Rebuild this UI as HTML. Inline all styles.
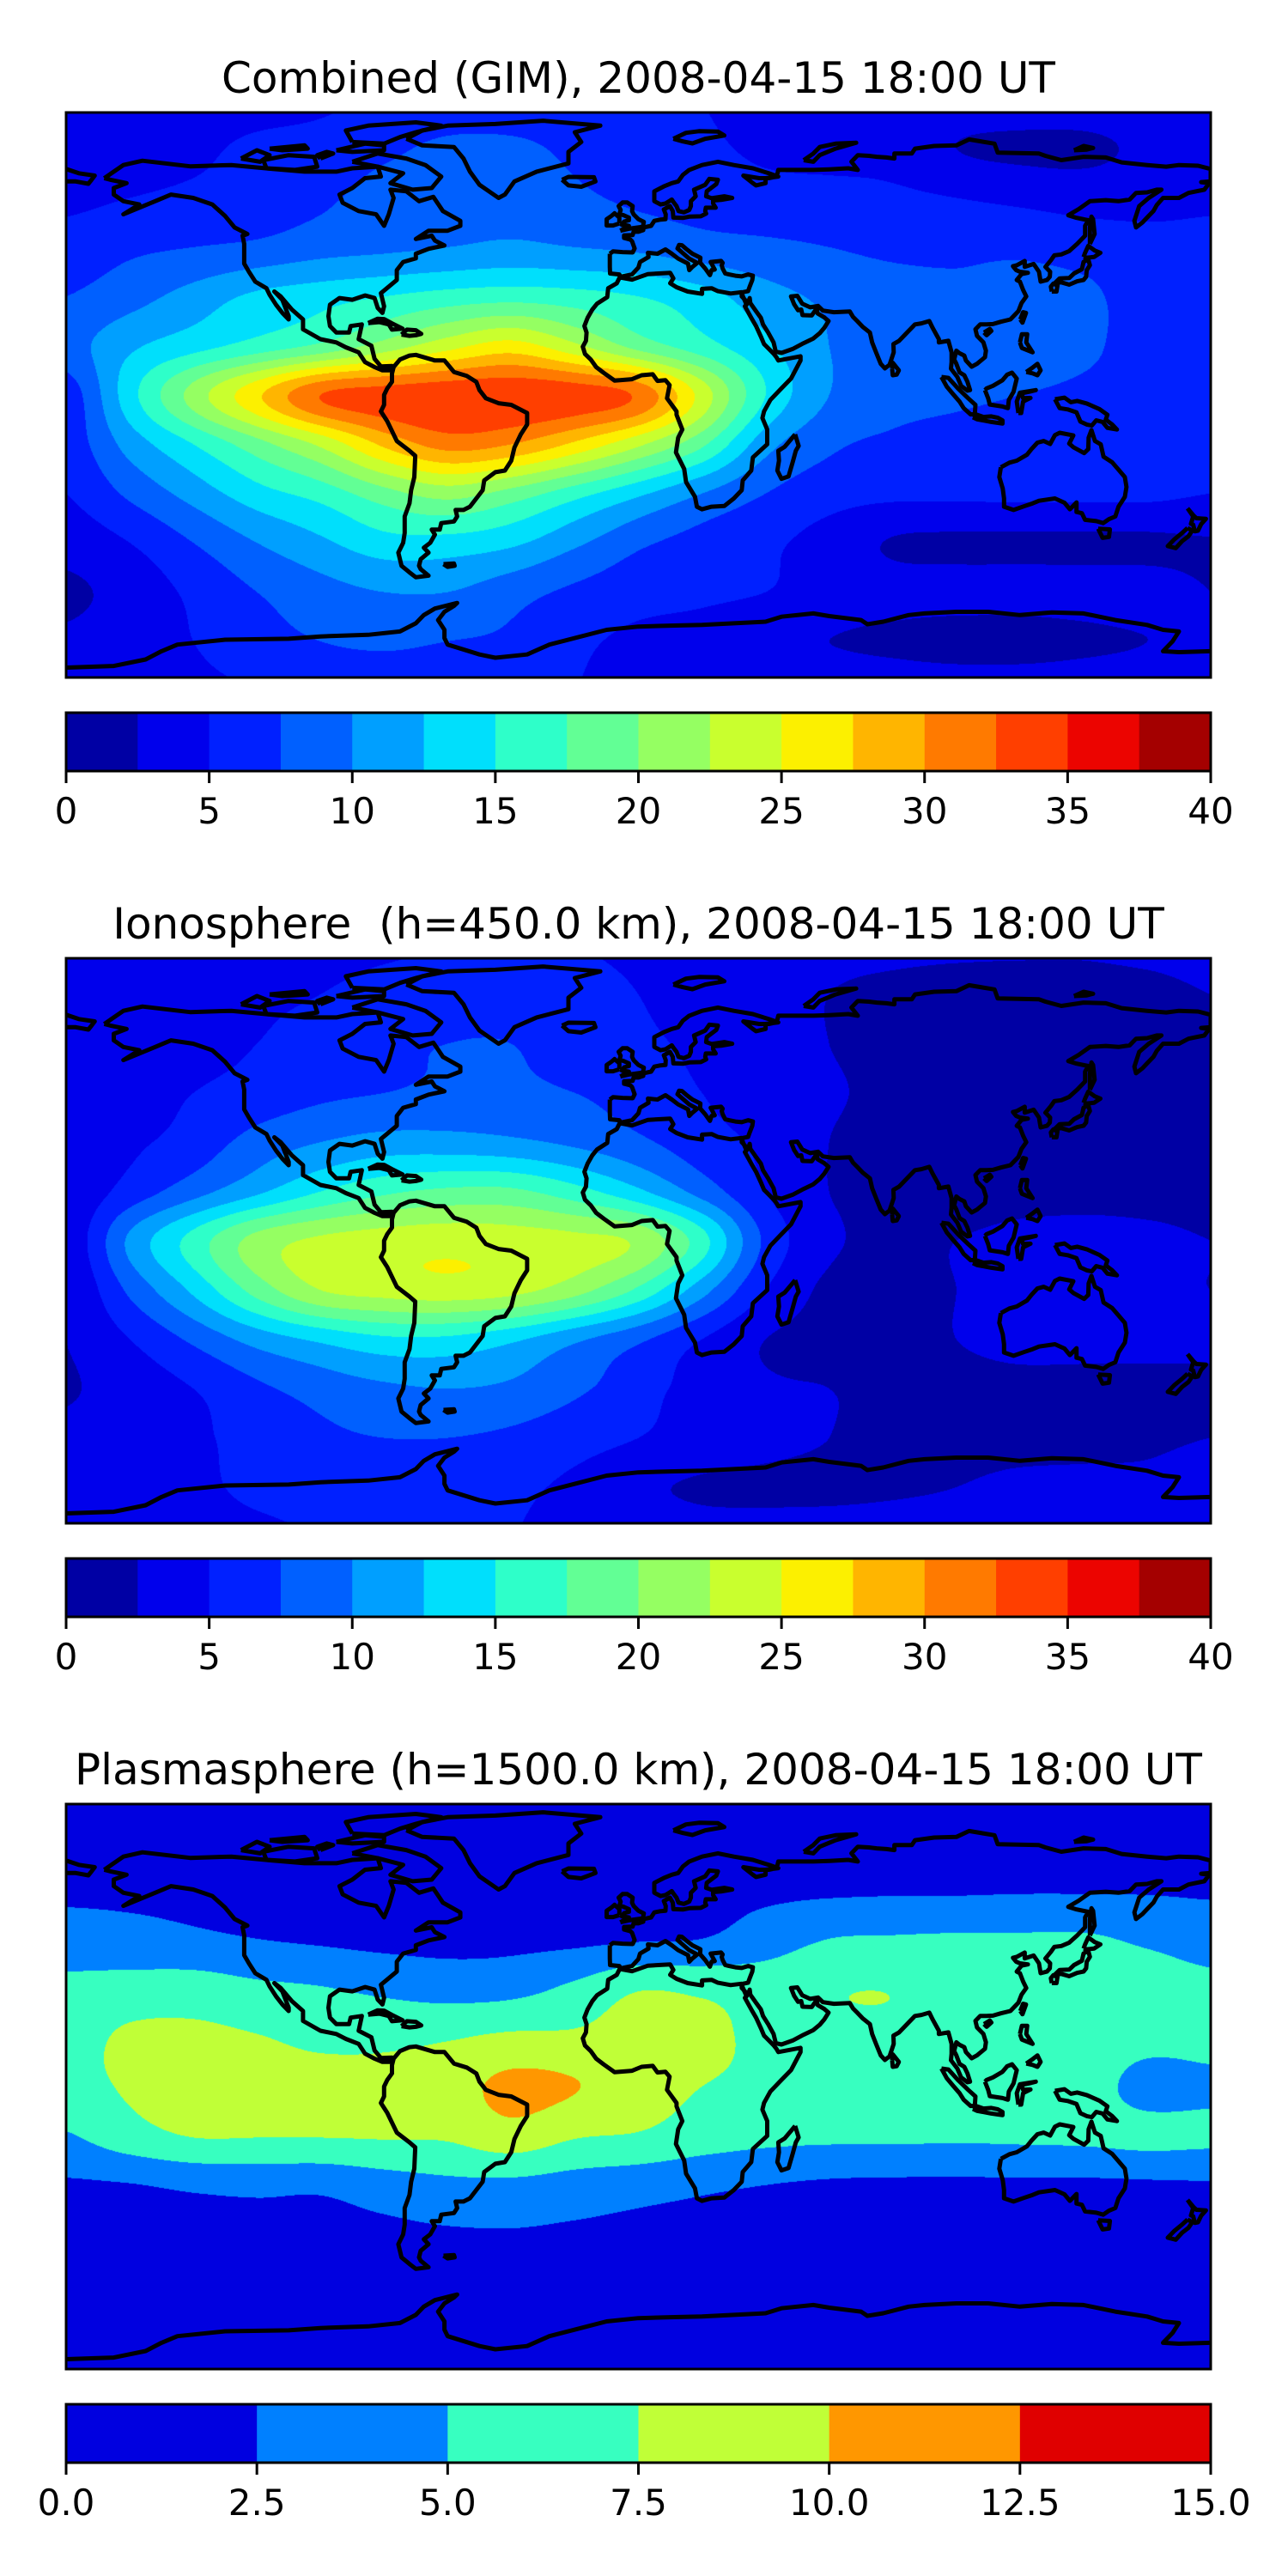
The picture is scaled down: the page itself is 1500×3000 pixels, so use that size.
<!DOCTYPE html>
<html><head><meta charset="utf-8"><title>TEC maps</title>
<style>
html,body{margin:0;padding:0;background:#fff;}
#page{position:relative;width:1500px;height:3000px;background:#fff;overflow:hidden;}
canvas{position:absolute;left:77px;width:1333px;height:658px;}
#overlay{position:absolute;left:0;top:0;}
text{font-family:"DejaVu Sans","Liberation Sans",sans-serif;fill:#000;}
</style></head>
<body>
<div id="page">
<canvas id="map0" width="1333" height="658" style="top:131px"></canvas>
<canvas id="map1" width="1333" height="658" style="top:1116px"></canvas>
<canvas id="map2" width="1333" height="658" style="top:2101px"></canvas>
<svg id="overlay" width="1500" height="3000" xmlns="http://www.w3.org/2000/svg">
<defs>
<clipPath id="clip0"><rect x="77" y="131" width="1333" height="658"/></clipPath>
<clipPath id="clip1"><rect x="77" y="1116" width="1333" height="658"/></clipPath>
<clipPath id="clip2"><rect x="77" y="2101" width="1333" height="658"/></clipPath>
</defs>
<text x="743.5" y="108" font-size="50" text-anchor="middle">Combined (GIM), 2008-04-15 18:00 UT</text>
<text x="743.5" y="1093" font-size="50" text-anchor="middle" xml:space="preserve">Ionosphere  (h=450.0 km), 2008-04-15 18:00 UT</text>
<text x="743.5" y="2078" font-size="50" text-anchor="middle">Plasmasphere (h=1500.0 km), 2008-04-15 18:00 UT</text>
<g id="layers"></g>
</svg>
</div>
<script>
const lons = [-180,-160,-140,-120,-100,-80,-60,-40,-20,0,20,40,60,80,100,120,140,160,180];
const lats = [90,75,60,45,30,15,0,-15,-30,-45,-60,-75,-90];

const combinedTEC = [
[4,4,4,4,4.5,5.5,6,6,6,5.5,5,4,4,4,4,4,4,4,4],
[4,4,4.5,5.5,6,7,8,8,7,6,5.5,4.5,4,4,2.5,2,2,3,4],
[4.5,5,5.5,6,7,8.5,9,9,8,7,6.5,6,6,5.5,5,4.5,4,4,4.5],
[6,7,7.5,8,9,9.5,10,10.5,10,9.5,8.5,8,7.5,7,7,7,6.5,6,6],
[7.5,9,11,13,14,15,16,16.5,16,15,13.5,11,9.5,8.5,8,8.5,8,6.5,7],
[9,12,14,16,18,21,24,26,23,19,16,13,10,9,9,9,8,6.5,6],
[6,14,21,27,32.5,33.8,34.5,34.5,34,32,24,15,10,8.5,8,7.5,7,6.5,5],
[6,11,15,19,23,28,31,30,27,23,18,11,8,7,6.5,6.2,6.2,6,6],
[5,8,11,14,16,19,21,19,16,13,10,7.5,6,5.5,5.5,5.5,5.5,5.5,5],
[3.5,5,7.5,10,12,14,14,13,10.5,8,6.5,5.5,4,2.3,2,2,2,2,2.3],
[2,3.5,5.5,7.5,9,10,10,8.5,7,6,5.5,5,4,3.5,3.5,3.5,3.5,3.5,2.5],
[3,4,5,6.5,7.5,8,7.5,7,5.5,4.5,4,3,2.5,2,1.5,1.5,2,2.5,3],
[4,4,4.5,5,5.5,5.5,5.5,5.5,5,4.5,4,4,4,4,4,4,4,4,4]
];
const ionoTEC = [
[4,4,4,4,4,4.5,5,5,5,4.5,4,3.5,3,3,3,3,3,3.5,4],
[3,3,3.5,4.5,5,6,6.5,6.5,6,5,4,3,2.5,2,1.5,1.2,1.2,1.5,2.5],
[3,3.5,4,5,6,7,7.5,7.5,6.5,5.5,4.5,3.5,2.5,1.8,1.5,1.5,1.5,1.5,2],
[3,4,5,6,7,7.5,8,8,7.5,6.5,5,4,2.8,2,1.8,1.5,1.5,1.5,2],
[3,4.5,6,8.5,10,11,11,10.5,9.5,8,6,4.5,2.5,1.8,1.5,1.5,1.5,1.5,1.8],
[3,6,9,12,15,17,18,18,16,13,9,5,2.5,1.8,1.5,1.8,2,2,2],
[3,10.5,16,21,23,23.8,24.2,23.8,23.2,22,16,7,3,2,2.5,3,3,2.8,2.5],
[2.5,8,13,18.5,22.5,23.5,24,23.3,21,17,11,5,2,1.8,2.5,3,3,2.8,2.5],
[2.5,5,8,11,13,14.5,14.5,13,10.5,8,5,2.5,2,2,2.5,3,3,3,2.8],
[2.3,3.5,5,7,8.5,9.5,10,9.5,8,6,4,2.8,2.5,2.3,2,2,2,2,2.2],
[3,3.5,4.5,6,7,7.5,7.5,7,6,5,4,3.2,2.5,2,1.8,1.8,2,2.2,2.5],
[3.5,4,4.5,5.5,6,6,6,5.5,4.5,3,2.2,2,2,2.2,2.5,3,3,3,3.5],
[4,4,4,4.5,5,5,5,5,4.5,4,3.5,3.5,3.5,3.5,3.5,3.5,3.5,4,4]
];
const plasmaTEC = [
[0.8,0.8,0.8,0.8,0.8,0.8,0.8,0.8,0.8,0.8,0.8,0.8,0.8,0.8,0.8,0.8,0.8,0.8,0.8],
[1.2,1.2,1.2,1.2,1.2,1.2,1.2,1.2,1.2,1.2,1.2,1.2,1.3,1.3,1.3,1.4,1.4,1.4,1.4],
[2.0,2.0,2.0,1.9,1.8,1.7,1.6,1.6,1.7,1.8,1.9,2.0,2.1,2.2,2.2,2.3,2.3,2.3,2.2],
[3.6,3.3,2.9,2.5,2.2,1.9,1.8,1.9,2.0,2.3,2.5,3.7,5.0,5.2,5.3,5.3,5.3,4.6,3.9],
[5.6,6.0,6.2,5.5,5.1,4.5,4.0,4.2,5.5,7.3,7.0,6.5,7.3,7.4,6.6,6.5,6.4,6.2,5.6],
[6.5,7.9,8.0,7.6,7.0,6.9,7.3,7.9,7.9,8.5,8.2,6.9,7.0,7.0,6.9,6.8,6.6,5.9,5.9],
[6.5,7.8,8.4,8.2,8.2,8.4,9.0,10.6,10.1,8.6,7.5,6.9,6.8,6.7,6.7,6.6,6.3,4.0,4.4],
[4.8,6.5,7.6,7.6,7.6,7.7,7.8,9.0,7.7,7.3,6.3,5.7,5.5,5.5,5.4,5.5,5.6,5.8,5.6],
[2.2,2.4,2.9,3.1,3.0,3.8,4.4,4.4,3.9,3.4,2.9,2.5,2.2,2.1,2.1,2.1,2.1,2.2,2.3],
[1.5,1.5,1.6,1.7,1.7,1.9,2.2,2.3,2.1,1.9,1.8,1.7,1.6,1.6,1.6,1.6,1.6,1.6,1.6],
[1.1,1.1,1.1,1.1,1.1,1.1,1.1,1.1,1.1,1.1,1.1,1.1,1.1,1.1,1.1,1.1,1.1,1.1,1.1],
[0.8,0.8,0.8,0.8,0.8,0.8,0.8,0.8,0.8,0.8,0.8,0.8,0.8,0.8,0.8,0.8,0.8,0.8,0.8],
[0.6,0.6,0.6,0.6,0.6,0.6,0.6,0.6,0.6,0.6,0.6,0.6,0.6,0.6,0.6,0.6,0.6,0.6,0.6]
];
const levels40 = [0,2.5,5,7.5,10,12.5,15,17.5,20,22.5,25,27.5,30,32.5,35,37.5,40];
const levels15 = [0,2.5,5,7.5,10,12.5,15];
const ticks40 = [0,5,10,15,20,25,30,35,40];
const tickLabels40 = ['0','5','10','15','20','25','30','35','40'];
const ticks15 = [0,2.5,5,7.5,10,12.5,15];
const tickLabels15 = ['0.0','2.5','5.0','7.5','10.0','12.5','15.0'];

const coastlines = [
[[-168,66],[-162,70],[-156,71.3],[-141,69.6],[-128,70],[-115,68.8],[-105,68],[-95,68],[-90,69],[-82,69.5],[-81,66.5],[-86,66],[-90,63],[-94,61],[-93,58.5],[-88,56],[-82.5,55],[-80,51.5],[-78.5,55],[-77,60],[-78,62.5],[-73,62],[-69,59],[-64.5,60.3],[-61.5,56],[-56,53],[-56,51.5],[-60,50],[-66,50],[-70,47.5],[-65,48.5],[-64,47],[-61,45.5],[-66,44.5],[-70,43],[-70,41.6],[-74,40.5],[-76,38],[-76,35],[-81,31],[-80,27],[-80.5,25],[-82,26.5],[-83,29.5],[-86,30.3],[-90,29],[-94,29.5],[-97,27.5],[-97.5,24],[-97,21],[-95,19],[-91,19],[-90.5,21],[-87,21.5],[-88,17],[-84,15],[-83,11],[-81,8.7],[-77.5,8.8],[-78,7.5],[-80.5,7.5],[-83,8.5],[-86,10],[-88,13],[-92,14.5],[-95,16],[-100,17],[-105.5,20],[-105.5,23],[-109,26],[-112.5,30],[-114.5,31.5],[-112,29],[-110,24],[-110,23],[-112,25],[-114,27.5],[-116,30.5],[-117,32.5],[-120.5,34.5],[-122.5,37.5],[-124,40],[-124,46],[-124.5,48.5],[-123,49],[-127,51],[-130,54.5],[-134,58],[-140,60],[-147,61],[-152,59],[-157,57],[-162,55],[-157,58],[-162,59],[-165,61],[-165,63],[-161,64.5],[-166,65.5],[-168,66]],
[[-180,68.8],[-176,67.5],[-171,66.8],[-172,65.5],[-173,64.3],[-177,65],[-180,65]],
[[-90,71],[-82,73.5],[-73,72],[-67,70],[-62,66.5],[-65,63],[-71,62.5],[-78,64.5],[-74,67.5],[-82,69.5],[-90,71]],
[[-90,77],[-80,76.5],[-75,78.5],[-70,80],[-62,82],[-70,83],[-85,82],[-92,80.5],[-90,77]],
[[-118,71.5],[-110,73],[-102,72.5],[-101,69.5],[-108,68.5],[-117,69],[-118,71.5]],
[[-125,72],[-120,74.5],[-116,73],[-119,71],[-125,72]],
[[-95,74.5],[-86,76.5],[-80,76],[-80,74.5],[-90,74],[-95,74.5]],
[[-100,72],[-96,73.5],[-98,74],[-101,73],[-100,72]],
[[-116,75],[-105,76],[-104,75],[-112,74.5],[-116,75]],
[[-73,78],[-68,76],[-58,75.5],[-55,72],[-53,68],[-50,64],[-44,60],[-42,61],[-39,65],[-32,68],[-22,70.5],[-22,74],[-18,77],[-20,80],[-12,82],[-30,83.5],[-45,82.5],[-60,82],[-68,80.5],[-73,78]],
[[-24,65.5],[-22,66.4],[-14,66.3],[-13.5,65],[-18,63.4],[-22,63.8],[-24,65.5]],
[[-77,8.5],[-75,10.8],[-72,12],[-70,12.2],[-64,10.5],[-61,10.5],[-58,7],[-54,5.8],[-51,4],[-50,1.5],[-48,-1],[-44,-2.5],[-40,-3],[-35,-5.5],[-35,-9],[-37,-12],[-39,-16],[-40,-20],[-42,-23],[-45,-23.5],[-48.5,-26],[-49,-29],[-51,-31.5],[-53,-34],[-55,-35],[-57.5,-35],[-57,-37],[-58,-38.5],[-62,-39],[-62.5,-41],[-65,-41],[-64,-42.5],[-65.5,-45],[-67.5,-46.5],[-66,-48],[-68.5,-50],[-69,-52],[-68.5,-53],[-66,-55],[-70,-55.5],[-72,-54],[-74.5,-52],[-75.5,-48],[-74,-45],[-73.5,-42],[-73.5,-37],[-72,-33],[-71.5,-29],[-70.5,-25],[-70.2,-18.5],[-72,-17],[-76,-14],[-77,-12],[-79,-8],[-81,-5],[-80,-3],[-80,0],[-79,2],[-77.5,4],[-77.5,6.5],[-77,8.5]],
[[-5.9,35.8],[-2,35.1],[3,36.8],[10,37.2],[11,35.5],[10,34],[12,32.8],[15.5,31.5],[20,30.8],[20,32.3],[23,32.5],[25,31.6],[29,30.9],[32.3,31.3],[34,27.5],[33.5,27],[35.5,23.5],[37,21],[38.5,17.8],[39.5,15.5],[42.5,12.6],[43.4,11.5],[44,10.5],[51,11.8],[51,10.5],[48,5],[45,2],[41.5,-1.5],[39.5,-5],[39,-7],[40.5,-10.5],[40.5,-15],[36,-19],[35.5,-23],[32.8,-26],[32.5,-29],[30,-31.5],[27,-33.8],[23,-34],[20,-34.8],[18.4,-34],[17.8,-31],[15,-26.5],[14.4,-22.5],[11.8,-17.5],[12.5,-13],[13.8,-10.5],[12,-6],[12,-5],[9,-1],[9.8,3],[8.5,4.5],[6,4.3],[4.5,6.3],[1,6],[-2,4.8],[-7.5,4.4],[-11,6.8],[-13.3,8.5],[-15,10.8],[-16.8,12.5],[-17.5,14.7],[-16.5,16.5],[-16.3,19],[-17,21],[-16,23.5],[-14.5,26],[-13,27.8],[-9.8,29.8],[-9.5,32.5],[-6.8,34],[-5.9,35.8]],
[[49.3,-12],[50.4,-15.5],[49.5,-17],[48.5,-20.5],[47.2,-24.8],[45,-25.5],[43.7,-23],[44.2,-20],[44,-17],[46,-15.8],[48,-13.5],[49.3,-12]],
[[-9,43],[-9,39],[-8.9,37],[-6,36.7],[-5.6,36],[-2,36.7],[0,38.8],[0.5,40.5],[3.2,42],[3,43.3],[6,43],[8.5,44.3],[10.5,43],[12.5,41.5],[15.6,40],[16,38],[17,39],[18.5,40.2],[16,41.5],[13.5,43.6],[12.3,44.6],[12.8,45.7],[13.7,45.6],[15,44.5],[17,43],[19.5,41.8],[19.4,40.3],[21,38.5],[22.5,36.5],[23,38],[24,38.2],[22.7,40.5],[26,40.8],[26.5,40.2],[26.2,39.5],[26.5,38.5],[27.3,37],[28.5,36.7],[30.5,36.3],[32.5,36.1],[34.5,36.7],[36,36.3],[35.8,35],[35,33],[34.5,31.6],[32.5,31.2],[32.5,30],[34.5,28],[35,29.5],[35.2,28],[37,25.5],[38.5,23.5],[39.2,21.5],[40.8,19],[42.5,16],[43.2,13.2],[45,12.8],[48.5,14],[52,15.8],[55,17.2],[57,18.8],[58.5,20.5],[59.8,22.5],[58.5,23.6],[56.4,24.8],[56,26.3],[54.5,24.2],[51.6,24.3],[51.2,26],[50.2,25.8],[49,27.6],[48,30],[50,30.2],[51.5,27.8],[54,26.7],[56.5,27.1],[58,25.7],[61.5,25.2],[66.5,25.4],[67.5,23.8],[68.8,22.5],[70.5,20.8],[72.8,19],[73.5,16],[74.8,12.8],[76.2,9.5],[77.5,8.1],[79,9.2],[80.3,13],[80.2,15.5],[82,16.5],[85,19.5],[87,21.5],[89,21.8],[91.5,22.5],[92.5,20.5],[94.5,17],[94.5,16],[97.5,16.5],[98.5,13],[98.5,10],[98.3,8],[100.3,5.5],[101.5,2.8],[103.5,1.3],[104.3,1.5],[103.5,4],[102.5,6],[101,6.9],[100,9.5],[99.3,10.8],[100,13.5],[101,12.7],[102.5,12],[103,10.5],[104.8,8.6],[106.5,9.5],[109,11.5],[109.3,13.5],[108.5,16],[106.5,18],[106,20],[107.5,21.5],[109.5,21.5],[111.5,21.6],[114,22.3],[117,23],[119.5,25.5],[120.5,28],[122,30],[121,32],[120,34.5],[119,35],[120.5,36.8],[122.5,37.2],[120,37.5],[118.8,38],[117.8,39.2],[119,39.5],[121.5,40.8],[121.5,39],[124.3,39.9],[126,37.5],[126.5,34.5],[128.5,35],[129.4,36],[129.5,37.5],[128,39],[129.7,41],[130.8,42.5],[133,42.8],[135.5,43.8],[138,46],[140.5,48.5],[140.5,51.5],[141.5,53.2],[137.5,54],[135.2,54.7],[138.5,56.6],[142,59],[147,59.3],[151,59],[154.5,59.5],[156.5,61.5],[160,61.7],[163,62.5],[164.5,62.5],[160.5,60],[157.5,57.5],[156,53],[156.5,51],[158.5,52.5],[160,54],[162,56],[163,57.8],[165,60],[170,60],[173,61.5],[178,62.5],[179.5,64.5],[177,64.8],[180,65],[180,68.8],[176,69.8],[170,70],[166,69.5],[160,70],[152,70.8],[147,72.3],[140,72.5],[133,71.5],[128,72.8],[126,73.5],[113,73.8],[112,76.5],[104,77.8],[100,76],[93,75.8],[87,75],[86,73.5],[80.5,73.5],[80.5,72],[78,72.3],[75,72.5],[72.5,72.8],[69,73],[67,71],[69,68.5],[66,69],[60,68.7],[55,68.5],[53,68.5],[44,68.5],[43.5,66.5],[41,66],[38,66],[33,66.8],[36,64.5],[37,63.8],[40,64.5],[40,66],[44,66.5],[41,67.5],[36,69],[30,70],[25,71],[20,70],[16,68.5],[14,67],[12.5,65],[10.5,64.5],[8,63.5],[5,62],[5,59],[7,58],[8.5,58.3],[10.5,59.5],[11,58.8],[12,57.5],[12.6,56],[14.3,55.6],[16,56.3],[16.5,57.5],[16.5,59],[18,60.5],[17.5,62.5],[21,64],[22.3,65.8],[25,65.5],[24.5,64.2],[21.5,62],[21.3,60.5],[23,59.9],[27,60.5],[29.5,60],[26,59.4],[23.5,59.2],[23.5,58.3],[24.3,57],[21.2,57],[21,56],[21.3,55.2],[19.6,54.4],[16,54.3],[14,53.9],[11,54],[10.8,56],[9.9,57.5],[8,56.5],[8.6,55],[8.5,53.5],[7,53.4],[5,53],[4,51.5],[1.6,51],[1.5,50.2],[0,49.7],[-1.5,49.7],[-1.8,48.7],[-4.5,48.6],[-4.5,47.8],[-2.5,47.3],[-2,46.8],[-1.2,44.6],[-1.8,43.4],[-5,43.5],[-8,43.7],[-9,43]],
[[-5.7,50],[-3,50.6],[1.4,51.2],[1.7,52.7],[0,53.5],[-1.5,55],[-2,56],[-1.8,57.5],[-3.5,58.6],[-5,58.6],[-6.2,57.5],[-5.6,56.3],[-6,55],[-4.8,54.8],[-3,54],[-3,53.2],[-4.5,52.8],[-5.2,51.8],[-3,51.5],[-5.7,50]],
[[-6,52.2],[-6,54],[-7.5,55.3],[-8.5,54.5],[-10,53.5],[-10,51.6],[-8,51.6],[-6,52.2]],
[[130.9,34],[132.5,35.5],[135.5,35.6],[137,37],[139.5,38.3],[140,40.5],[141.5,41.3],[142,39.5],[141,38],[140.8,36],[140,35],[138,34.6],[135.5,33.6],[133,34.3],[130.9,34]],
[[140,42],[140.5,43.3],[141.5,45.4],[143.5,44],[145.3,43.3],[143.3,42],[141,41.8],[140,42]],
[[130,31.5],[131.5,31.5],[131.8,33.3],[130.5,33.9],[129.7,33],[130,31.5]],
[[142,46],[143.5,49],[143,53.5],[142.5,54.3],[142,51],[142,46]],
[[79.8,8],[80,9.8],[81.9,7.5],[81.2,6.2],[80,6],[79.8,8]],
[[120.1,23],[121,25.2],[121.9,25],[120.8,22],[120.1,23]],
[[108.7,19],[110.5,20.1],[111,19.5],[109.5,18.2],[108.7,19]],
[[120,16],[120.6,18.5],[122.3,18.5],[122,16],[124,13],[120.6,14.3],[120,16]],
[[122,7],[123.8,8.2],[125.5,9.5],[126.5,7.5],[125.5,6],[124,6.6],[122,7]],
[[109,1.5],[110,-1],[110.5,-2.9],[114.5,-3.5],[116.2,-4],[116.5,-1.5],[118,1],[119,5],[117.5,6.8],[116,6.2],[114.5,4.5],[111.5,2.8],[109.5,2],[109,1.5]],
[[95.3,5.5],[97.5,5.2],[100.5,2],[103.7,-1],[106,-3],[105.8,-5.8],[104.5,-5.9],[102.3,-4],[101,-2],[99,0.2],[97,2.5],[95.3,5.5]],
[[105.2,-6.8],[106.5,-6],[108.5,-6.7],[111,-6.5],[113,-6.9],[114.5,-7.7],[114.5,-8.7],[111,-8.2],[106.5,-7.4],[105.2,-6.8]],
[[119.5,-5.5],[120.4,-5.5],[121,-2],[123.3,-0.9],[121,-1],[120.5,0.5],[123,1],[125,1.5],[120,0.7],[119,-2],[119.5,-5.5]],
[[131,-1.3],[134,-0.8],[136,-2.2],[138,-1.8],[141,-2.6],[145,-4.3],[147.5,-6],[147,-7.5],[149,-9],[150.5,-10.5],[147.5,-10],[146,-8.2],[144,-7.7],[142.6,-9.3],[141,-9],[139,-8.1],[137.8,-5.3],[135,-4.4],[132.5,-4],[131,-1.3]],
[[114,-22],[113.5,-25],[114.6,-28.5],[115,-31.5],[115,-34],[118,-35],[121.5,-33.8],[124,-33],[126,-32.2],[131,-31.5],[134,-32.8],[135.7,-34.8],[137.8,-32.7],[137.8,-35.6],[139.5,-36],[140.5,-38],[144,-38.4],[146.2,-39],[148,-37.8],[150,-37],[151,-34],[153,-31],[153.5,-28],[153,-25],[150.8,-22.5],[149,-20.5],[146.3,-18.8],[145.4,-15],[143.6,-14],[142.5,-10.7],[141.6,-13],[141.5,-16.5],[140.2,-17.7],[136.8,-15.9],[135.5,-14.8],[136.8,-12.3],[132.5,-11.5],[131,-12.2],[129.5,-14.9],[127.5,-14],[125.5,-14.5],[123.6,-16.5],[122.2,-18.2],[119,-20],[116.7,-20.6],[114,-22]],
[[144.6,-40.7],[148.3,-40.9],[148,-43.2],[146,-43.5],[144.6,-40.7]],
[[172.7,-34.5],[174.7,-36.8],[175.5,-37.5],[178.5,-37.7],[177,-39.3],[176,-41.3],[175,-41.5],[174.5,-39.5],[173.8,-39.2],[174.5,-37],[172.7,-34.5]],
[[172.7,-40.5],[174.2,-41.3],[173,-43],[171,-44.5],[169,-46.6],[166.5,-46],[168.5,-44],[171,-42],[172.7,-40.5]],
[[-85,21.9],[-82,23.2],[-80,23.1],[-77.5,21.8],[-74.2,20.2],[-77.5,19.9],[-78.5,21.5],[-81.5,22.2],[-85,21.9]],
[[-74.5,18.4],[-72.8,19.9],[-70,19.7],[-68.3,18.6],[-70,18.2],[-72,18],[-74.5,18.4]],
[[52,71.5],[55,73.5],[57,75.5],[62,76.5],[68.5,76.8],[62,75],[57,73],[55,71],[52,71.5]],
[[11,78],[15,79.8],[19,80.3],[25,80.2],[27,79],[21,78],[17,76.6],[14,77.2],[11,78]],
[[137,74.5],[141,74.7],[143,75.2],[140,75.8],[137,74.5]],
[[-61.3,-51.5],[-58,-51.3],[-57.8,-52],[-60,-52.3],[-61.3,-51.5]],
[[-180,-83],[-165,-82.5],[-155,-80.5],[-150,-78],[-145,-76],[-130,-74.5],[-110,-74.2],[-100,-73.5],[-85,-73],[-75,-72],[-70,-69.5],[-67.5,-67],[-64,-65],[-57,-63.3],[-58,-64.2],[-61,-66],[-63,-68.5],[-61,-71.5],[-61,-74],[-60,-76],[-50,-79],[-45,-80],[-35,-79],[-28,-76],[-20,-74],[-10,-71.5],[0,-70.5],[10,-70.2],[20,-70],[30,-69.5],[40,-69],[45,-67.5],[55,-66.5],[60,-67.3],[70,-68.5],[72,-69.8],[77,-69],[85,-67],[90,-66.5],[100,-66],[110,-66],[120,-67],[130,-66.2],[140,-66.5],[150,-68.5],[160,-70],[165,-71.5],[170,-72],[168,-75],[165,-78],[170,-78.3],[180,-78]]
];

const NS = 'http://www.w3.org/2000/svg';
const MAP_X = 77, MAP_W = 1333, MAP_H = 658, LAT_MAX = 86;
const panelOffsets = [0, 985, 1970];
const grids = [combinedTEC, ionoTEC, plasmaTEC];
const levelSets = [levels40, levels40, levels15];
const tickSets = [ticks40, ticks40, ticks15];
const tickLabelSets = [tickLabels40, tickLabels40, tickLabels15];
const panelNames = ['combined', 'ionosphere', 'plasmasphere'];

function lerpSeg(t, pts){
  for(let i=1;i<pts.length;i++){
    if(t<=pts[i][0]){const a=pts[i-1],b=pts[i];return a[1]+(b[1]-a[1])*(t-a[0])/(b[0]-a[0]);}
  }
  return pts[pts.length-1][1];
}
function jet(t){
  const r=lerpSeg(t,[[0,0],[0.35,0],[0.66,1],[0.89,1],[1,0.5]]);
  const g=lerpSeg(t,[[0,0],[0.125,0],[0.375,1],[0.64,1],[0.91,0],[1,0]]);
  const b=lerpSeg(t,[[0,0.5],[0.11,1],[0.34,1],[0.65,0],[1,0]]);
  return [Math.round(r*255),Math.round(g*255),Math.round(b*255)];
}
function levelColors(levels){
  const n=levels.length-1, out=[];
  for(let i=0;i<n;i++) out.push(jet((i+0.5)/n));
  return out;
}
function cr(p0,p1,p2,p3,t){
  return 0.5*(2*p1+(-p0+p2)*t+(2*p0-5*p1+4*p2-p3)*t*t+(-p0+3*p1-3*p2+p3)*t*t*t);
}
function sample(grid, lon, lat){
  const nr=grid.length, nc=grid[0].length;
  const fx=(lon-lons[0])/(lons[1]-lons[0]);
  const fy=(lats[0]-lat)/(lats[0]-lats[1]);
  const ix=Math.min(Math.floor(fx),nc-2), iy=Math.min(Math.floor(fy),nr-2);
  const tx=fx-ix, ty=fy-iy;
  const rows=[];
  for(let j=-1;j<=2;j++){
    const r=grid[Math.max(0,Math.min(nr-1,iy+j))];
    const c=k=>r[Math.max(0,Math.min(nc-1,ix+k))];
    rows.push(cr(c(-1),c(0),c(1),c(2),tx));
  }
  return cr(rows[0],rows[1],rows[2],rows[3],ty);
}
function px(lon){return MAP_X+(lon+180)/360*MAP_W;}
function py(lat,top){return top+(LAT_MAX-lat)/(2*LAT_MAX)*MAP_H;}

const layers=document.getElementById('layers');
for(let p=0;p<3;p++){
  const grid=grids[p], levels=levelSets[p], cols=levelColors(levels);
  const n=levels.length-1, step=levels[1]-levels[0];
  const cv=document.getElementById('map'+p), ctx=cv.getContext('2d');
  const img=ctx.createImageData(MAP_W,MAP_H), d=img.data;
  for(let y=0;y<MAP_H;y++){
    const lat=LAT_MAX-(y+0.5)/MAP_H*2*LAT_MAX;
    for(let x=0;x<MAP_W;x++){
      const lon=-180+(x+0.5)/MAP_W*360;
      const v=sample(grid,lon,lat);
      let k=Math.floor((v-levels[0])/step); if(k<0)k=0; if(k>n-1)k=n-1;
      const c=cols[k], o=(y*MAP_W+x)*4;
      d[o]=c[0];d[o+1]=c[1];d[o+2]=c[2];d[o+3]=255;
    }
  }
  ctx.putImageData(img,0,0);

  const off=panelOffsets[p], top=131+off;
  const g=document.createElementNS(NS,'g');
  g.setAttribute('clip-path','url(#clip'+p+')');
  
  
  layers.appendChild(g);
  coastlines.forEach(poly=>{
    const path=document.createElementNS(NS,'path');
    let dstr='';
    poly.forEach((pt,i)=>{dstr+=(i?'L':'M')+px(pt[0]).toFixed(1)+' '+py(pt[1],top).toFixed(1);});
    path.setAttribute('d',dstr);
    path.setAttribute('fill','none');
    path.setAttribute('stroke','#000');
    path.setAttribute('stroke-width','5');
    path.setAttribute('stroke-linejoin','round');
    
    
    g.appendChild(path);
  });
  const frame=document.createElementNS(NS,'rect');
  frame.setAttribute('x',MAP_X);frame.setAttribute('y',top);
  frame.setAttribute('width',MAP_W);frame.setAttribute('height',MAP_H);
  frame.setAttribute('fill','none');frame.setAttribute('stroke','#000');frame.setAttribute('stroke-width','3');
  
  
  layers.appendChild(frame);

  const cbTop=830+off, cbH=68, vmax=levels[n];
  const cb=document.createElementNS(NS,'g');
  
  
  layers.appendChild(cb);
  for(let i=0;i<n;i++){
    const r=document.createElementNS(NS,'rect');
    const x0=MAP_X+(levels[i]-levels[0])/(vmax-levels[0])*MAP_W;
    const x1=MAP_X+(levels[i+1]-levels[0])/(vmax-levels[0])*MAP_W;
    r.setAttribute('x',x0.toFixed(2));r.setAttribute('y',cbTop);
    r.setAttribute('width',(x1-x0+0.6).toFixed(2));r.setAttribute('height',cbH);
    r.setAttribute('fill','rgb('+cols[i].join(',')+')');
    
    
    cb.appendChild(r);
  }
  const ol=document.createElementNS(NS,'rect');
  ol.setAttribute('x',MAP_X);ol.setAttribute('y',cbTop);ol.setAttribute('width',MAP_W);ol.setAttribute('height',cbH);
  ol.setAttribute('fill','none');ol.setAttribute('stroke','#000');ol.setAttribute('stroke-width','3');
  
  
  cb.appendChild(ol);
  const ticks=tickSets[p], labels=tickLabelSets[p];
  ticks.forEach((v,i)=>{
    const x=MAP_X+(v-levels[0])/(vmax-levels[0])*MAP_W;
    const t=document.createElementNS(NS,'line');
    t.setAttribute('x1',x);t.setAttribute('x2',x);t.setAttribute('y1',cbTop+cbH);t.setAttribute('y2',cbTop+cbH+14);
    t.setAttribute('stroke','#000');t.setAttribute('stroke-width','3');
    
    
    cb.appendChild(t);
    const tx=document.createElementNS(NS,'text');
    tx.setAttribute('x',x);tx.setAttribute('y',cbTop+cbH+61);
    tx.setAttribute('font-size','42');tx.setAttribute('text-anchor','middle');
    
    
    tx.textContent=labels[i];
    cb.appendChild(tx);
  });
}
</script>
</body></html>
